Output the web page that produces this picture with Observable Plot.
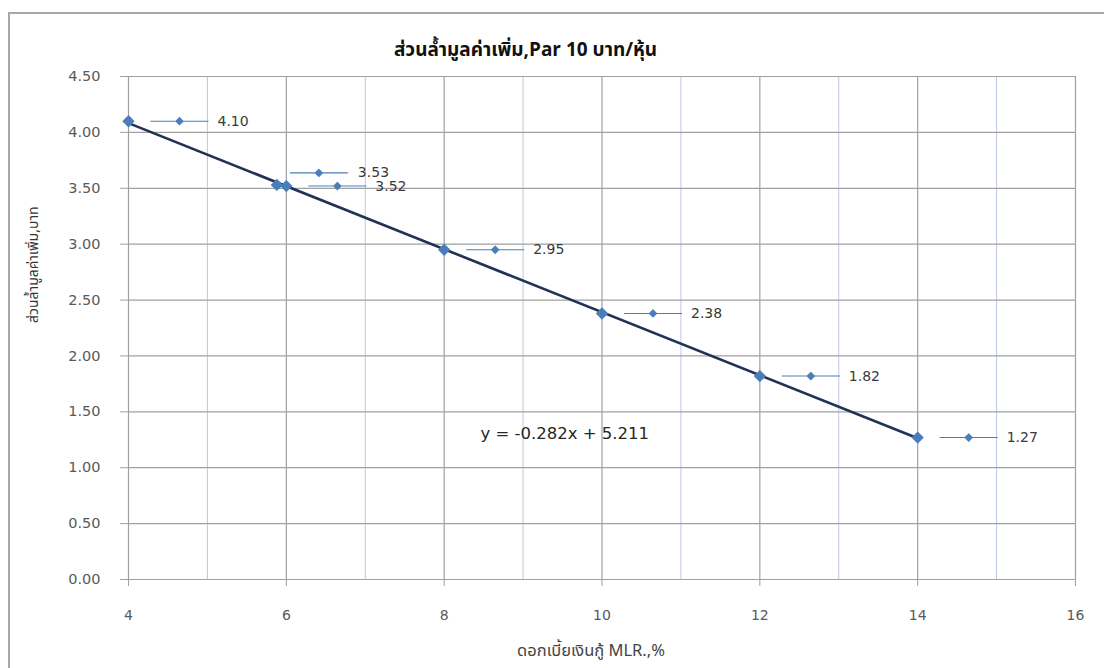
<!DOCTYPE html>
<html>
<head>
<meta charset="utf-8">
<script src="https://cdn.jsdelivr.net/npm/d3@7"></script>
<script src="https://cdn.jsdelivr.net/npm/@observablehq/plot@0.6"></script>
<style>
  html, body { margin: 0; padding: 0; background: #ffffff; }
  #wrap { position: relative; width: 1104px; height: 668px; overflow: hidden; }
  #border { position: absolute; left: 8px; top: 12px; right: -4px; bottom: -4px;
            border-top: 2px solid #a8a8a8; border-left: 2px solid #a8a8a8; pointer-events: none; }
  #chart { position: absolute; left: 0; top: 0; }
</style>
</head>
<body>
<div id="wrap"><div id="chart"></div><div id="border"></div></div>
<script>
// MLR interest rate (%) and the resulting premium per share (baht)
const mlrRates = [4, 5.88, 6, 8, 10, 12, 14];
const premiums = [4.10, 3.53, 3.52, 2.95, 2.38, 1.82, 1.27];

// Linear trend fitted to the points
const trendSlope = -0.282;
const trendIntercept = 5.211;
const trendRange = [4, 14];

// Axis ticks
const yTicks = [0, 0.5, 1, 1.5, 2, 2.5, 3, 3.5, 4, 4.5];
const xMajorTicks = [4, 6, 8, 10, 12, 14, 16];
const xMinorTicks = [5, 7, 9, 11, 13, 15];

// Texts
const titleText = "ส่วนล้ำมูลค่าเพิ่ม,Par 10 บาท/หุ้น";
const yLabelText = "ส่วนล้ำมูลค่าเพิ่ม,บาท";
const xLabelText = "ดอกเบี้ยเงินกู้ MLR.,%";
const equationText = `y = -${Math.abs(trendSlope).toFixed(3)}x + ${trendIntercept.toFixed(3)}`;
const equationAt = {x: 8.46, y: 1.30};

const points = mlrRates.map((x, i) => ({x, y: premiums[i]}));
const trend = trendRange.map(x => ({x, y: trendSlope * x + trendIntercept}));

// the 3.53 label sits raised above its neighbour so the two don't collide
const raised = points.filter(d => d.y === 3.53);
const normal = points.filter(d => d.y !== 3.53);

const blue = "#4a7ebb";
const thaiFont = "'Noto Sans Thai', 'Tahoma', 'Noto Sans', 'DejaVu Sans', sans-serif";
const numFont = "'DejaVu Sans', sans-serif";

// data-label legend key: short horizontal line with a small diamond in the middle
const keySymbol = {
  draw(ctx) {
    ctx.moveTo(-29, 0); ctx.lineTo(29, 0);
    const r = 3.6;
    ctx.moveTo(0, -r); ctx.lineTo(r, 0); ctx.lineTo(0, r); ctx.lineTo(-r, 0); ctx.closePath();
  }
};

function labelMarks(data, dxKey, dxText, dy) {
  return [
    Plot.dot(data, {x: "x", y: "y", symbol: keySymbol, r: 4, fill: blue, stroke: blue, strokeWidth: 1.1, dx: dxKey, dy}),
    Plot.text(data, {x: "x", y: "y", text: d => d.y.toFixed(2), textAnchor: "start", dx: dxText, dy,
      fill: "#3a3a3a", fontSize: 14, fontFamily: numFont})
  ];
}

const chart = Plot.plot({
  width: 1104,
  height: 668,
  marginLeft: 128,
  marginRight: 29,
  marginTop: 76,
  marginBottom: 89,
  style: {background: "transparent", overflow: "visible"},
  x: {domain: [4, 16]},
  y: {domain: [0, 4.5]},
  marks: [
    Plot.gridX(xMinorTicks, {stroke: "#bcc8e2", strokeOpacity: 1, strokeWidth: 1}),
    Plot.gridX(xMajorTicks, {stroke: "#a0a0a0", strokeOpacity: 1, strokeWidth: 1.2}),
    Plot.gridY(yTicks, {stroke: "#a0a0a0", strokeOpacity: 1, strokeWidth: 1.2}),
    Plot.axisY(yTicks, {tickFormat: d => d.toFixed(2), tickSize: 8, tickPadding: 20,
      stroke: "#a0a0a0", fill: "#595959", fontSize: 14.5, fontFamily: numFont, label: null}),
    Plot.axisX(xMajorTicks, {tickFormat: d => String(d), tickSize: 7, tickPadding: 24,
      stroke: "#a0a0a0", fill: "#595959", fontSize: 14, fontFamily: numFont, label: null}),
    Plot.line(trend, {x: "x", y: "y", stroke: "#1f3355", strokeWidth: 2.6}),
    Plot.dot(points, {x: "x", y: "y", symbol: "diamond2", r: 4.6, fill: blue, stroke: blue}),
    ...labelMarks(normal, 51, 89, 0),
    ...labelMarks(raised, 42, 81, -12),
    Plot.text([equationText], {x: equationAt.x, y: equationAt.y, textAnchor: "start",
      fill: "#262626", fontSize: 16.5, fontFamily: numFont}),
    Plot.text([titleText], {frameAnchor: "top-left", dx: 397, dy: -34, textAnchor: "middle",
      fill: "#111", fontSize: 19, fontWeight: "bold", fontFamily: thaiFont}),
    Plot.text([yLabelText], {frameAnchor: "left", rotate: -90, dx: -95, dy: -5,
      fill: "#333", fontSize: 14, fontFamily: thaiFont}),
    Plot.text([xLabelText], {frameAnchor: "bottom", dx: -11, dy: 76,
      fill: "#444", fontSize: 16.5, fontFamily: thaiFont})
  ]
});

document.getElementById("chart").appendChild(chart);
</script>
</body>
</html>
